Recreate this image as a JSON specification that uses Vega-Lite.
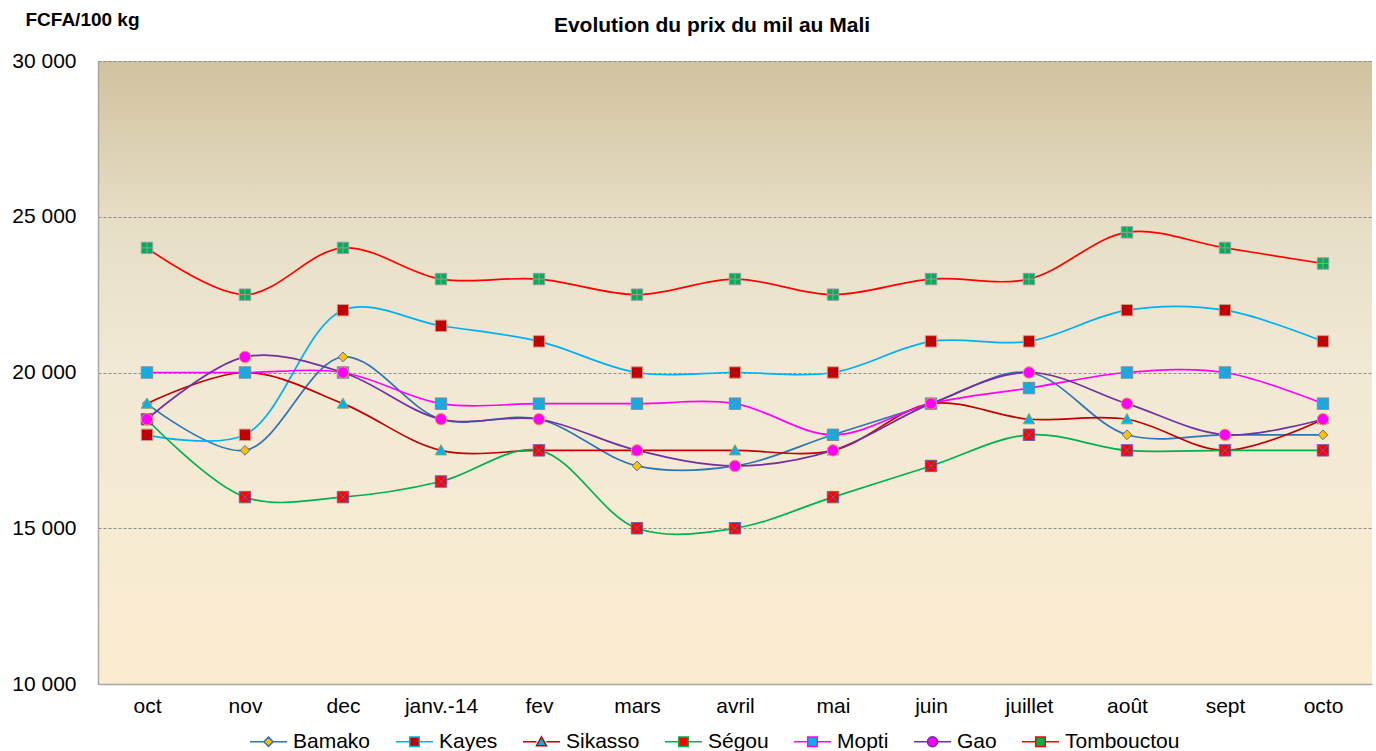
{
  "$schema": "https://vega.github.io/schema/vega-lite/v6.json",
  "width": 1274,
  "height": 623,
  "autosize": "none",
  "padding": {"left": 98, "top": 61, "right": 4, "bottom": 67},
  "background": "white",
  "view": {
    "stroke": null,
    "fill": {
      "gradient": "linear",
      "x1": 0, "y1": 0, "x2": 0, "y2": 1,
      "stops": [
        {"offset": 0, "color": "#D0C29E"},
        {"offset": 0.25, "color": "#E6DDC5"},
        {"offset": 0.5, "color": "#F1E9D5"},
        {"offset": 1, "color": "#FBECD0"}
      ]
    }
  },
  "title": {
    "text": "Evolution du prix du mil au Mali",
    "font": "Liberation Sans",
    "fontSize": 21,
    "fontWeight": "bold",
    "color": "#000000",
    "anchor": "middle",
    "frame": "group",
    "baseline": "alphabetic",
    "dx": -23,
    "offset": -43
  },
  "config": {
    "font": "Liberation Sans"
  },
  "data": {
    "values": [
      {"month": "oct", "city": "Bamako", "price": 19000},
      {"month": "nov", "city": "Bamako", "price": 17500},
      {"month": "dec", "city": "Bamako", "price": 20500},
      {"month": "janv.-14", "city": "Bamako", "price": 18500},
      {"month": "fev", "city": "Bamako", "price": 18500},
      {"month": "mars", "city": "Bamako", "price": 17000},
      {"month": "avril", "city": "Bamako", "price": 17000},
      {"month": "mai", "city": "Bamako", "price": 18000},
      {"month": "juin", "city": "Bamako", "price": 19000},
      {"month": "juillet", "city": "Bamako", "price": 20000},
      {"month": "août", "city": "Bamako", "price": 18000},
      {"month": "sept", "city": "Bamako", "price": 18000},
      {"month": "octo", "city": "Bamako", "price": 18000},
      {"month": "oct", "city": "Kayes", "price": 18000},
      {"month": "nov", "city": "Kayes", "price": 18000},
      {"month": "dec", "city": "Kayes", "price": 22000},
      {"month": "janv.-14", "city": "Kayes", "price": 21500},
      {"month": "fev", "city": "Kayes", "price": 21000},
      {"month": "mars", "city": "Kayes", "price": 20000},
      {"month": "avril", "city": "Kayes", "price": 20000},
      {"month": "mai", "city": "Kayes", "price": 20000},
      {"month": "juin", "city": "Kayes", "price": 21000},
      {"month": "juillet", "city": "Kayes", "price": 21000},
      {"month": "août", "city": "Kayes", "price": 22000},
      {"month": "sept", "city": "Kayes", "price": 22000},
      {"month": "octo", "city": "Kayes", "price": 21000},
      {"month": "oct", "city": "Sikasso", "price": 19000},
      {"month": "nov", "city": "Sikasso", "price": 20000},
      {"month": "dec", "city": "Sikasso", "price": 19000},
      {"month": "janv.-14", "city": "Sikasso", "price": 17500},
      {"month": "fev", "city": "Sikasso", "price": 17500},
      {"month": "mars", "city": "Sikasso", "price": 17500},
      {"month": "avril", "city": "Sikasso", "price": 17500},
      {"month": "mai", "city": "Sikasso", "price": 17500},
      {"month": "juin", "city": "Sikasso", "price": 19000},
      {"month": "juillet", "city": "Sikasso", "price": 18500},
      {"month": "août", "city": "Sikasso", "price": 18500},
      {"month": "sept", "city": "Sikasso", "price": 17500},
      {"month": "octo", "city": "Sikasso", "price": 18500},
      {"month": "oct", "city": "Ségou", "price": 18500},
      {"month": "nov", "city": "Ségou", "price": 16000},
      {"month": "dec", "city": "Ségou", "price": 16000},
      {"month": "janv.-14", "city": "Ségou", "price": 16500},
      {"month": "fev", "city": "Ségou", "price": 17500},
      {"month": "mars", "city": "Ségou", "price": 15000},
      {"month": "avril", "city": "Ségou", "price": 15000},
      {"month": "mai", "city": "Ségou", "price": 16000},
      {"month": "juin", "city": "Ségou", "price": 17000},
      {"month": "juillet", "city": "Ségou", "price": 18000},
      {"month": "août", "city": "Ségou", "price": 17500},
      {"month": "sept", "city": "Ségou", "price": 17500},
      {"month": "octo", "city": "Ségou", "price": 17500},
      {"month": "oct", "city": "Mopti", "price": 20000},
      {"month": "nov", "city": "Mopti", "price": 20000},
      {"month": "dec", "city": "Mopti", "price": 20000},
      {"month": "janv.-14", "city": "Mopti", "price": 19000},
      {"month": "fev", "city": "Mopti", "price": 19000},
      {"month": "mars", "city": "Mopti", "price": 19000},
      {"month": "avril", "city": "Mopti", "price": 19000},
      {"month": "mai", "city": "Mopti", "price": 18000},
      {"month": "juin", "city": "Mopti", "price": 19000},
      {"month": "juillet", "city": "Mopti", "price": 19500},
      {"month": "août", "city": "Mopti", "price": 20000},
      {"month": "sept", "city": "Mopti", "price": 20000},
      {"month": "octo", "city": "Mopti", "price": 19000},
      {"month": "oct", "city": "Gao", "price": 18500},
      {"month": "nov", "city": "Gao", "price": 20500},
      {"month": "dec", "city": "Gao", "price": 20000},
      {"month": "janv.-14", "city": "Gao", "price": 18500},
      {"month": "fev", "city": "Gao", "price": 18500},
      {"month": "mars", "city": "Gao", "price": 17500},
      {"month": "avril", "city": "Gao", "price": 17000},
      {"month": "mai", "city": "Gao", "price": 17500},
      {"month": "juin", "city": "Gao", "price": 19000},
      {"month": "juillet", "city": "Gao", "price": 20000},
      {"month": "août", "city": "Gao", "price": 19000},
      {"month": "sept", "city": "Gao", "price": 18000},
      {"month": "octo", "city": "Gao", "price": 18500},
      {"month": "oct", "city": "Tombouctou", "price": 24000},
      {"month": "nov", "city": "Tombouctou", "price": 22500},
      {"month": "dec", "city": "Tombouctou", "price": 24000},
      {"month": "janv.-14", "city": "Tombouctou", "price": 23000},
      {"month": "fev", "city": "Tombouctou", "price": 23000},
      {"month": "mars", "city": "Tombouctou", "price": 22500},
      {"month": "avril", "city": "Tombouctou", "price": 23000},
      {"month": "mai", "city": "Tombouctou", "price": 22500},
      {"month": "juin", "city": "Tombouctou", "price": 23000},
      {"month": "juillet", "city": "Tombouctou", "price": 23000},
      {"month": "août", "city": "Tombouctou", "price": 24500},
      {"month": "sept", "city": "Tombouctou", "price": 24000},
      {"month": "octo", "city": "Tombouctou", "price": 23500}
    ]
  },
  "encoding": {
    "x": {
      "field": "month",
      "type": "nominal",
      "sort": ["oct", "nov", "dec", "janv.-14", "fev", "mars", "avril", "mai", "juin", "juillet", "août", "sept", "octo"],
      "scale": {"type": "point", "padding": 0.5},
      "axis": {
        "title": null,
        "labelAngle": 0,
        "labelFont": "Liberation Sans",
        "labelFontSize": 21,
        "labelColor": "#000000",
        "labelPadding": 11,
        "ticks": false,
        "tickSize": 0,
        "domainColor": "#A6A6A6",
        "domainWidth": 1.5,
        "grid": false
      }
    },
    "y": {
      "field": "price",
      "type": "quantitative",
      "scale": {"domain": [10000, 30000], "nice": false, "zero": false},
      "axis": {
        "title": "FCFA/100 kg",
        "titleAngle": 0,
        "titleX": -73,
        "titleY": -36,
        "titleAlign": "left",
        "titleBaseline": "alphabetic",
        "titleFont": "Liberation Sans",
        "titleFontSize": 19,
        "titleFontWeight": "bold",
        "titleColor": "#000000",
        "values": [10000, 15000, 20000, 25000, 30000],
        "labelExpr": "replace(format(datum.value, ','), ',', ' ')",
        "labelFont": "Liberation Sans",
        "labelFontSize": 21,
        "labelColor": "#000000",
        "labelPadding": 22,
        "ticks": false,
        "tickSize": 0,
        "domainColor": "#A6A6A6",
        "domainWidth": 1.5,
        "grid": true,
        "gridColor": "#8C8C8C",
        "gridDash": [3, 2],
        "gridWidth": 1
      }
    }
  },
  "layer": [
    {
      "mark": {"type": "line", "interpolate": "catmull-rom", "strokeWidth": 1.7},
      "encoding": {
        "stroke": {
          "field": "city",
          "type": "nominal",
          "scale": {
            "domain": ["Bamako", "Kayes", "Sikasso", "Ségou", "Mopti", "Gao", "Tombouctou"],
            "range": ["#2E75B6", "#00B0F0", "#C00000", "#00B050", "#FF00FF", "#7030A0", "#FF0000"]
          },
          "legend": {
            "orient": "none",
            "legendX": 151,
            "legendY": 661,
            "direction": "horizontal",
            "columns": 7,
            "title": null,
            "symbolSize": 1369,
            "symbolStrokeWidth": 1.5,
            "labelFont": "Liberation Sans",
            "labelFontSize": 21,
            "labelColor": "#000000",
            "labelOffset": 5,
            "columnPadding": 22,
            "encode": {
              "symbols": {
                "update": {
                  "shape": {"signal": "datum.value === 'Bamako' ? 'M-1,0H-0.26M0.26,0H1M0,-0.25L0.25,0L0,0.25L-0.25,0Z' : datum.value === 'Sikasso' ? 'M-1,0H-0.27M0.27,0H1M0,-0.27L0.27,0.22L-0.27,0.22Z' : datum.value === 'Gao' ? 'M-1,0H-0.27M0.27,0H1M-0.27,0A0.27,0.27 0 1,0 0.27,0A0.27,0.27 0 1,0 -0.27,0Z' : 'M-1,0H-0.26M0.26,0H1M-0.26,-0.26H0.26V0.26H-0.26Z'"},
                  "fill": {"signal": "datum.value === 'Bamako' ? '#FFC000' : datum.value === 'Kayes' ? '#C00000' : datum.value === 'Sikasso' ? '#00B0F0' : datum.value === 'Ségou' ? '#FF0000' : datum.value === 'Mopti' ? '#00B0F0' : datum.value === 'Gao' ? '#FF00FF' : '#00B050'"},
                  "opacity": {"value": 1}
                }
              }
            }
          }
        }
      }
    },
    {
      "mark": {"type": "point", "filled": true, "size": 130, "opacity": 1, "strokeWidth": 1},
      "encoding": {
        "shape": {
          "field": "city",
          "type": "nominal",
          "scale": {
            "domain": ["Tombouctou", "Gao", "Mopti", "Ségou", "Sikasso", "Kayes", "Bamako"],
            "range": [
              "M-1,-1H1V1H-1ZM0,-1V1M-1,0H1",
              "M-1,0A1,1 0 1,0 1,0A1,1 0 1,0 -1,0Z",
              "M-1,-1H1V1H-1ZM-1,-1L1,1M1,-1L-1,1",
              "M-1,-1H1V1H-1ZM-1,-1L1,1M1,-1L-1,1",
              "M0,-1L1,0.8L-1,0.8Z",
              "M-1,-1H1V1H-1Z",
              "M0,-0.85L0.85,0L0,0.85L-0.85,0Z"
            ]
          },
          "legend": null
        },
        "fill": {
          "field": "city",
          "type": "nominal",
          "scale": {
            "domain": ["Gao", "Tombouctou", "Bamako", "Kayes", "Sikasso", "Ségou", "Mopti"],
            "range": ["#FF00FF", "#00B050", "#FFC000", "#C00000", "#00B0F0", "#FF0000", "#00B0F0"]
          },
          "legend": null
        },
        "stroke": {
          "condition": [
            {"test": "datum.city === 'Bamako'", "value": "#4F6FA8"},
            {"test": "datum.city === 'Kayes'", "value": "#D09A8C"},
            {"test": "datum.city === 'Sikasso'", "value": "#8FA851"},
            {"test": "datum.city === 'Ségou'", "value": "#6E5FA8"},
            {"test": "datum.city === 'Mopti'", "value": "#7F8A9A"},
            {"test": "datum.city === 'Gao'", "value": "#F0964A"}
          ],
          "value": "#9A9AAA"
        }
      }
    }
  ]
}
